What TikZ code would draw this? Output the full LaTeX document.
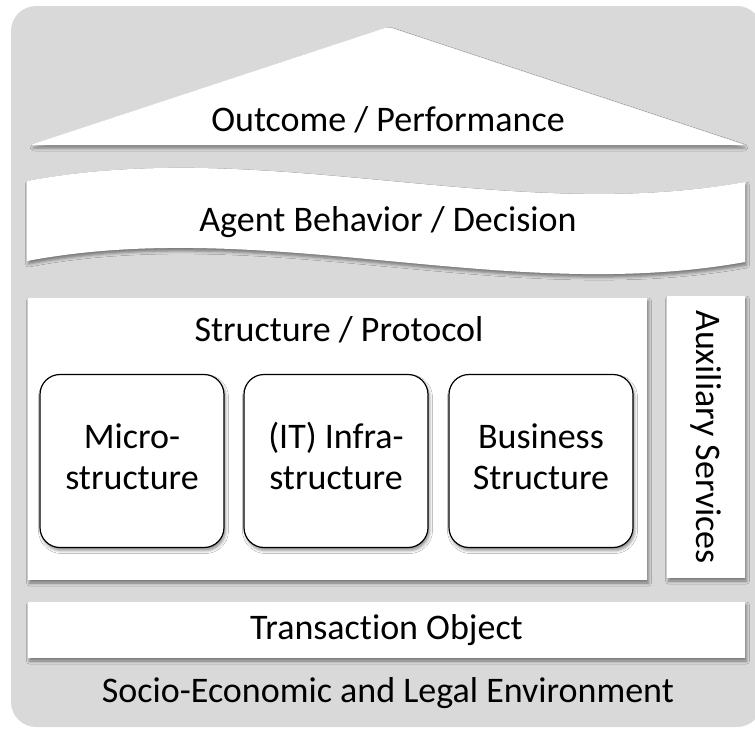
\documentclass[tikz,border=0pt]{standalone}
\usepackage{fontspec}
\setmainfont{Carlito}[Ligatures=NoCommon]
\usetikzlibrary{shadows.blur}
\definecolor{envgray}{HTML}{D9D9D9}
\newcommand{\layerfont}{\fontsize{36}{41}\selectfont}
\tikzset{
  panel/.style={fill=white, blur shadow={shadow xshift=1.5pt, shadow yshift=-3pt, shadow blur radius=3pt, shadow opacity=45}},
  layerbox/.style={panel, inner sep=0pt},
  partbox/.style={panel, draw=black, line width=1.2pt, rounded corners=20pt, minimum width=184, minimum height=173, align=center, font=\layerfont},
  layertext/.style={font=\layerfont}
}
\begin{document}
\begin{tikzpicture}[x=1pt,y=-1pt]
  \useasboundingbox (0,0) rectangle (755,729);
  \fill[envgray, rounded corners=25pt] (11,6) rectangle (762,727);

  \fill[panel, rounded corners=3pt] (30,145) -- (388,27) -- (745,145) -- cycle;
  \node[layertext] (outcome) at (388,120) {Outcome / Performance};

  \fill[panel] (27,181) .. controls (266,136) and (506,225) .. (745,182)
    -- (745,262) .. controls (506,305) and (266,216) .. (27,261) -- cycle;
  \node[layertext] (agent) at (388,222) {Agent Behavior / Decision};

  \node[layerbox, minimum width=619, minimum height=282] (structure) at (337.5,439) {};
  \node[layertext] (protocol) at (339,330) {Structure / Protocol};
  \node[partbox] (micro) at (132,461) {\strut Micro-\\\strut structure};
  \node[partbox] (infra) at (336,461) {\strut (IT) Infra-\\\strut structure};
  \node[partbox] (business) at (541,461) {\strut Business\\\strut Structure};

  \node[layerbox, minimum width=78, minimum height=282] (auxbox) at (706,437) {};
  \node[layertext, rotate=-90] (aux) at (706,437) {Auxiliary Services};

  \node[layerbox, minimum width=717, minimum height=56, layertext] (transobj) at (386.5,630) {Transaction Object};
  \node[layertext] (env) at (388,693) {Socio-Economic and Legal Environment};
\end{tikzpicture}
\end{document}
